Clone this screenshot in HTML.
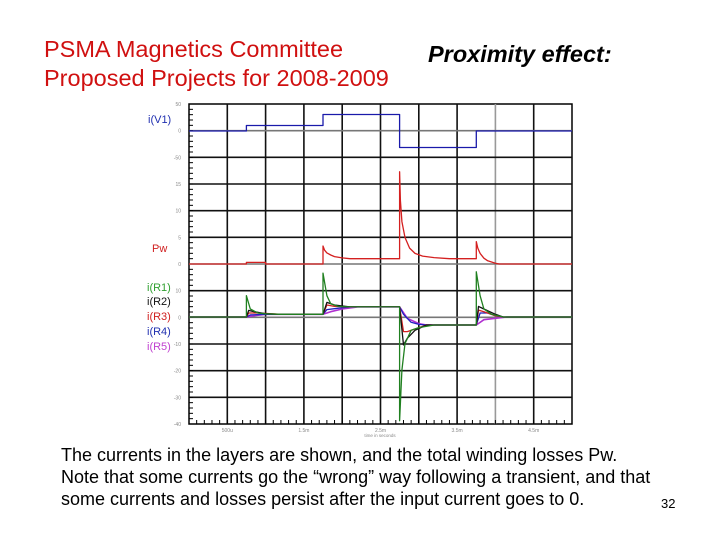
<!DOCTYPE html>
<html><head><meta charset="utf-8"><style>
body{margin:0;background:#fff;width:720px;height:540px;overflow:hidden;position:relative;font-family:"Liberation Sans",sans-serif}
.t{position:absolute;white-space:nowrap}
</style></head><body>
<div class="t" style="left:44px;top:35px;font-size:23.5px;line-height:29px;color:#d01010">PSMA Magnetics Committee<br>Proposed Projects for 2008-2009</div>
<div class="t" style="left:428px;top:41px;font-size:23.5px;font-weight:bold;font-style:italic;color:#000">Proximity effect:</div>
<div class="t" style="left:61px;top:444px;font-size:18px;line-height:22px;color:#000">The currents in the layers are shown, and the total winding losses Pw.<br>Note that some currents go the “wrong” way following a transient, and that<br>some currents and losses persist after the input current goes to 0.</div>
<div class="t" style="left:661px;top:496px;font-size:13px;color:#000">32</div>
<svg id="chart" width="720" height="540" style="position:absolute;left:0;top:0" font-family="Liberation Sans, sans-serif"></svg>
<script>
const timeTicks=["500u","1.5m","2.5m","3.5m","4.5m"];
const timeTickVals=[0.5,1.5,2.5,3.5,4.5];
const v1T=[0,0.75,0.75,1.75,1.75,2.75,2.75,3.75,3.75,5];
const v1V=[0,0,1,1,3,3,-3,-3,0,0];
const pwT=[0,0.75,0.75,1.0,1.0,1.75,1.75,1.77,1.8,1.85,1.9,2.0,2.1,2.75,2.75,2.76,2.78,2.82,2.88,2.95,3.05,3.2,3.4,3.75,3.75,3.77,3.8,3.85,3.9,4.0,4.05,5];
const pwV=[0,0,0.3,0.3,0,0,3.4,2.6,2.1,1.7,1.4,1.15,1,1,17.4,12,8,5,3,2,1.5,1.2,1,1,4.2,3,2,1.1,0.6,0.15,0,0];
const r1T=[0,0.75,0.75,0.8,0.9,1.0,1.2,1.75,1.75,1.8,1.85,1.95,2.1,2.75,2.75,2.78,2.82,2.9,3.0,3.2,3.75,3.75,3.8,3.85,3.95,4.1,5];
const r1V=[0,0,8,3,1.5,1.2,1,1,16.5,8,5,4,3.8,3.8,-39,-20,-10,-5,-4,-3,-3,17,8,3,1,0,0];
const r2T=[0,0.75,0.75,0.78,0.85,1.0,1.2,1.75,1.75,1.8,1.9,2.1,2.75,2.75,2.8,2.85,2.95,3.1,3.75,3.75,3.78,3.85,4.0,4.1,5];
const r2V=[0,0,0,2.5,2,1.2,1,1,1,5.5,4.5,3.8,3.8,3.8,-10.5,-8,-5,-3,-3,-3,4,3,1,0,0];
const r3T=[0,0.75,0.78,0.9,1.2,1.75,1.8,1.9,2.1,2.75,2.8,2.85,2.95,3.1,3.75,3.78,3.85,4.0,4.1,5];
const r3V=[0,0,1.5,1.5,1,1,4.5,4,3.8,3.8,-5.5,-5.5,-4.5,-3,-3,2.6,2,0.5,0,0];
const r4T=[0,0.75,0.8,1.0,1.75,1.8,1.95,2.1,2.75,2.8,2.9,3.0,3.1,3.75,3.8,3.9,4.0,4.1,5];
const r4V=[0,0,0.8,1,1,2.8,3.3,3.8,3.8,1,-2,-2.8,-3,-3,1.5,1.5,0.5,0,0];
const r5T=[0,0.75,0.85,1.0,1.75,1.85,2.0,2.2,2.75,2.85,3.0,3.1,3.75,3.85,4.0,4.15,5];
const r5V=[0,0,0.5,1,1,2,3,3.8,3.8,-0.5,-2.5,-3,-3,-1,-0.5,0,0];
const leftLabels=["50","0","-50","15","10","5","0","10","0","-10","-20","-30","-40"];

const NS="http://www.w3.org/2000/svg";
const svg=document.getElementById('chart');
const L=189,R=572,T=104,B=424;
const xs=t=>L+t/5*(R-L);
const yV1=v=>131-v*5.5, yPw=v=>264-v*5.3, yI=v=>317-v*2.66;
function mk(tag,a){const e=document.createElementNS(NS,tag);for(const k in a)e.setAttribute(k,a[k]);svg.appendChild(e);return e;}
mk('rect',{x:L,y:T,width:R-L,height:B-T,fill:'#fff',stroke:'#000','stroke-width':1.5});
for(let i=1;i<10;i++){const x=L+i*(R-L)/10;
 const g=mk('line',{x1:x,x2:x,y1:T,y2:B,stroke:(i==8)?'#999':'#111','stroke-width':1.6});
 
 }
for(let i=1;i<12;i++){const y=T+i*(B-T)/12;
 const g=mk('line',{x1:L,x2:R,y1:y,y2:y,stroke:(i==1||i==6||i==8)?'#777':'#111','stroke-width':1.6});
 
 }
for(let i=0;i<60;i++){const y=T+i*(B-T)/60;mk('line',{x1:L,x2:L+4,y1:y,y2:y,stroke:'#000','stroke-width':1});}
for(let i=1;i<50;i++){const x=L+i*(R-L)/50;mk('line',{x1:x,x2:x,y1:B,y2:B-4,stroke:'#000','stroke-width':1});}
leftLabels.forEach((s,i)=>{const t=mk('text',{x:L-8,y:T+i*(B-T)/12+2,'font-size':5,fill:'#888','text-anchor':'end'});t.textContent=s;
 
 });
timeTicks.forEach((s,i)=>{const t=mk('text',{x:xs(timeTickVals[i]),y:B+8,'font-size':5,fill:'#888','text-anchor':'middle'});t.textContent=s;
 
 });
const xt=mk('text',{x:380,y:B+13,'font-size':4.5,fill:'#888','text-anchor':'middle'});xt.textContent='time in seconds';


function trace(T_,V_,ys,color,name,w){
 const d=T_.map((t,i)=>(i?'L':'M')+xs(t).toFixed(1)+' '+ys(V_[i]).toFixed(1)).join(' ');
 const p=mk('path',{d:d,fill:'none',stroke:color,'stroke-width':w||1.3,'stroke-linejoin':'round'});
 
 }
trace(v1T,v1V,yV1,'#1a1aaa','trace-i-v1');
trace(pwT,pwV,yPw,'#d42020','trace-pw');
trace(r5T,r5V,yI,'#b030d0','trace-i-r5',1.6);
trace(r4T,r4V,yI,'#2020c0','trace-i-r4');
trace(r3T,r3V,yI,'#d02020','trace-i-r3');
trace(r2T,r2V,yI,'#111','trace-i-r2');
trace(r1T,r1V,yI,'#208020','trace-i-r1');
const labs=[["i(V1)",148,123,'#2030b0'],["Pw",152,252,'#d02020'],["i(R1)",147,291,'#30a030'],["i(R2)",147,305,'#111'],["i(R3)",147,320,'#d02020'],["i(R4)",147,335,'#2030b0'],["i(R5)",147,350,'#c040d0']];
labs.forEach(l=>{const t=mk('text',{x:l[1],y:l[2],'font-size':11,fill:l[3]});t.textContent=l[0];
 
 });
</script>
</body></html>
